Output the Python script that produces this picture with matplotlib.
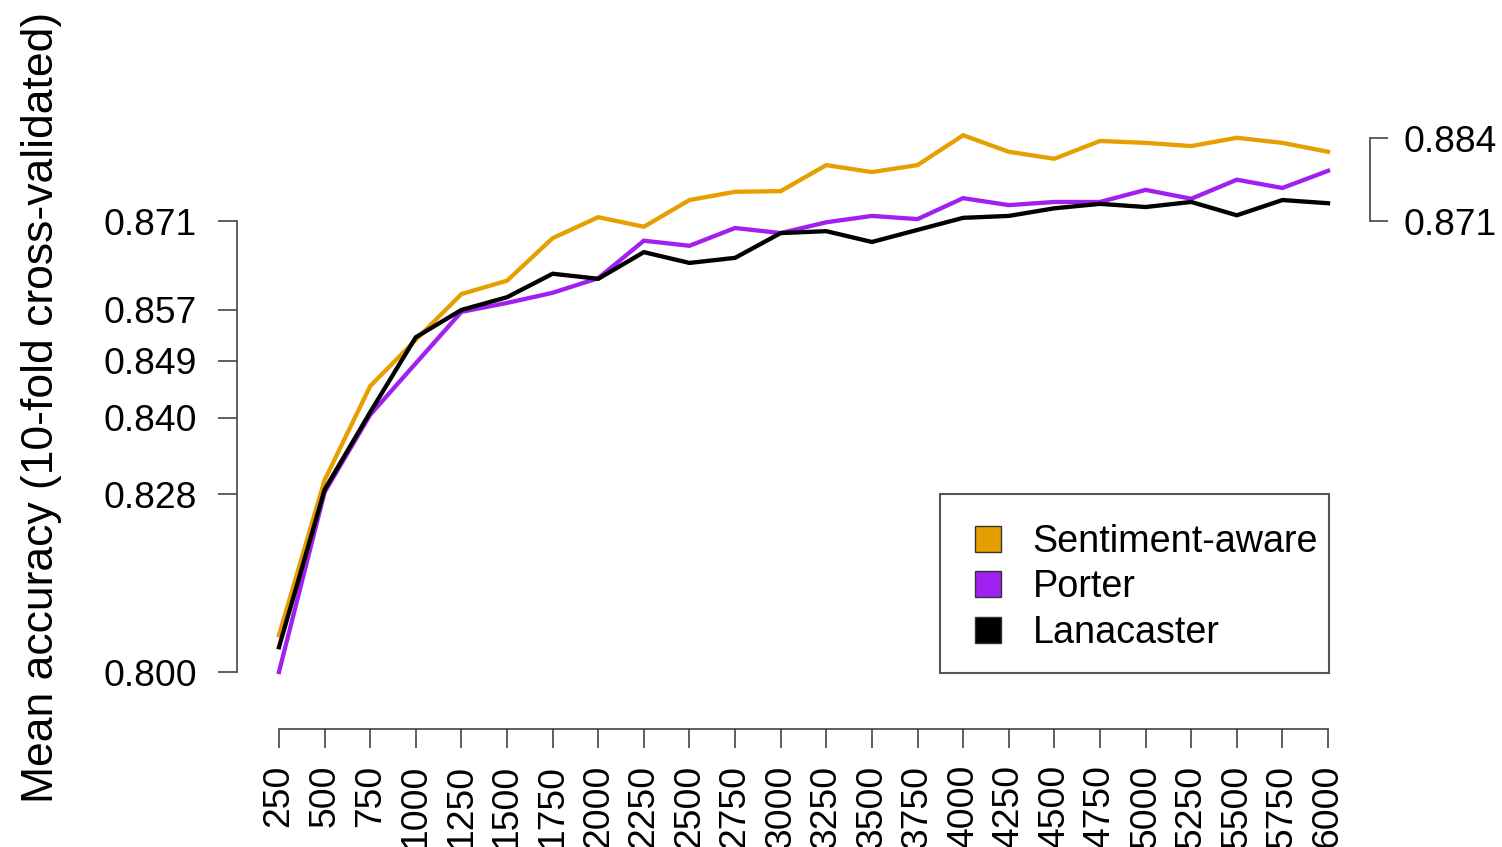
import matplotlib
matplotlib.use("Agg")
import matplotlib.pyplot as plt
from matplotlib.patches import Patch, Rectangle

plt.rcParams['font.family'] = ['Liberation Sans', 'DejaVu Sans']

features = [250, 500, 750, 1000, 1250, 1500, 1750, 2000, 2250, 2500, 2750, 3000,
            3250, 3500, 3750, 4000, 4250, 4500, 4750, 5000, 5250, 5500, 5750, 6000]
sentiment_aware = [0.8058, 0.8302, 0.8450, 0.8523, 0.8595, 0.8616, 0.8683, 0.8716,
                   0.8701, 0.8743, 0.8756, 0.8757, 0.8798, 0.8787, 0.8798, 0.8845,
                   0.8819, 0.8808, 0.8836, 0.8833, 0.8828, 0.8841, 0.8833, 0.8819]
porter = [0.8000, 0.8283, 0.8405, 0.8486, 0.8567, 0.8581, 0.8597, 0.8620,
          0.8679, 0.8671, 0.8699, 0.8691, 0.8708, 0.8718, 0.8713, 0.8746,
          0.8735, 0.8740, 0.8740, 0.8759, 0.8745, 0.8775, 0.8762, 0.8789]
lanacaster = [0.8039, 0.8287, 0.8409, 0.8527, 0.8570, 0.8590, 0.8627, 0.8619,
              0.8661, 0.8644, 0.8652, 0.8691, 0.8694, 0.8677, 0.8696, 0.8715,
              0.8718, 0.8730, 0.8737, 0.8732, 0.8740, 0.8719, 0.8743, 0.8738]
series_names = ['Sentiment-aware', 'Porter', 'Lanacaster']
series_colors = ['#E69F00', '#A020F0', '#000000']
left_ticks = [0.800, 0.828, 0.840, 0.849, 0.857, 0.871]
right_ticks = [0.871, 0.884]

W, H = 1502, 847
fig = plt.figure(figsize=(W / 100, H / 100), dpi=100)
ax = fig.add_axes([237 / W, 1 - 693 / H, (1370 - 237) / W, (693 - 117) / H])

FS = 26.8
for vals, name, col in zip([sentiment_aware, porter, lanacaster], series_names, series_colors):
    ax.plot(features, vals, color=col, lw=3.1, solid_joinstyle='miter')

ax.set_xlim(20, 6230)
ax.set_ylim(0.796694, 0.887374)

spine_col = '#444444'
ax.spines['top'].set_visible(False)
ax.spines['right'].set_visible(False)
ax.spines['left'].set_bounds(0.800, 0.871)
ax.spines['bottom'].set_bounds(250, 6000)
ax.spines['bottom'].set_position(('outward', 26))
for s in ['left', 'bottom']:
    ax.spines[s].set_color(spine_col)
    ax.spines[s].set_linewidth(1.2)

ax.set_xticks(features)
ax.set_xticklabels([str(f) for f in features], rotation=90, fontsize=FS)
ax.set_yticks(left_ticks)
ax.set_yticklabels([f"{v:.3f}" for v in left_ticks], fontsize=FS)
ax.tick_params(axis='x', length=13.5, width=1.2, color=spine_col, pad=12)
ax.tick_params(axis='y', length=13.7, width=1.2, color=spine_col, pad=15)

ax2 = ax.twinx()
ax2.set_ylim(ax.get_ylim())
ax2.set_position(ax.get_position())
for s in ['top', 'left', 'bottom']:
    ax2.spines[s].set_visible(False)
ax2.spines['right'].set_bounds(0.871, 0.884)
ax2.spines['right'].set_color(spine_col)
ax2.spines['right'].set_linewidth(1.2)
ax2.set_yticks(right_ticks)
ax2.set_yticklabels([f"{v:.3f}" for v in right_ticks], fontsize=FS)
ax2.tick_params(axis='y', length=13, width=1.2, color=spine_col, pad=11)

ax.set_ylabel('Mean accuracy (10-fold cross-validated)', fontsize=32)
ax.yaxis.set_label_coords(42 / W, 1 - 407 / H, transform=fig.transFigure)
ax.yaxis.label.set_va('center')

# legend frame
fig.patches.append(Rectangle((940 / W, 1 - 673 / H), (1329 - 940) / W, (673 - 494) / H,
                             transform=fig.transFigure, fill=False,
                             edgecolor='#555555', lw=1.5))
handles = [Patch(facecolor=c, edgecolor='#333333', lw=1) for c in series_colors]
leg = fig.legend(handles, series_names, loc='upper left',
                 bbox_to_anchor=(975 / W, 1 - 524 / H), frameon=False,
                 fontsize=27.2, handlelength=0.68, handleheight=0.68,
                 handletextpad=0.85, labelspacing=0.25, borderpad=0, borderaxespad=0)

fig.savefig('out.png', dpi=100)
